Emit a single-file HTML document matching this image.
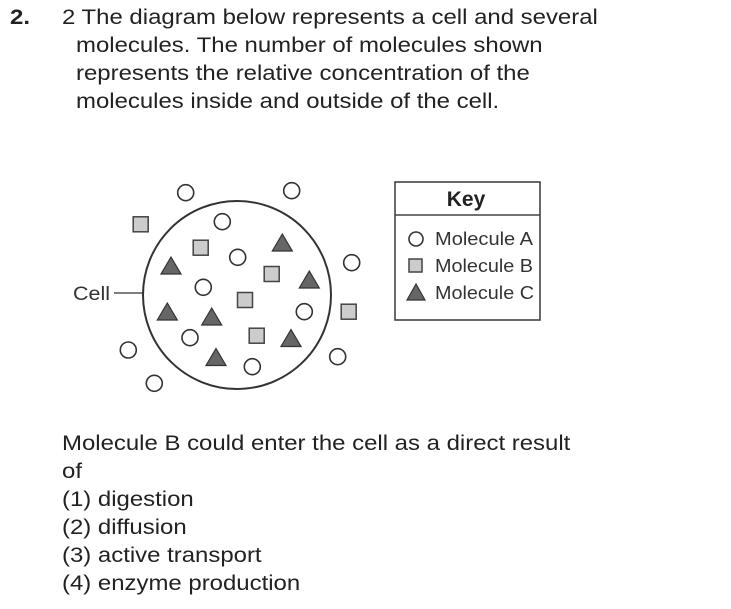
<!DOCTYPE html>
<html><head><style>
body{margin:0;width:731px;height:609px;background:#fff;overflow:hidden;font-family:"Liberation Sans",Arial,sans-serif;color:#222;}
.t{position:absolute;font-size:21px;line-height:28px;white-space:nowrap;transform:scaleX(1.14);transform-origin:0 0;}
</style></head><body>
<div class="t" style="left:10px;top:4px;font-weight:bold;">2.</div>
<div class="t" style="left:62px;top:4px;">2 The diagram below represents a cell and several</div>
<div class="t" style="left:76px;top:32px;">molecules. The number of molecules shown</div>
<div class="t" style="left:76px;top:60px;">represents the relative concentration of the</div>
<div class="t" style="left:76px;top:88px;">molecules inside and outside of the cell.</div>
<svg style="position:absolute;left:0;top:0" width="731" height="609">
<g stroke="#333" stroke-width="1.6" fill="none">
<circle cx="237" cy="295" r="94" stroke-width="2"/>
<line x1="114" y1="293" x2="143" y2="293" stroke-width="1.2"/>
</g>
<g stroke="#333" stroke-width="1.6" fill="#fff">
<circle cx="185.7" cy="192.7" r="8"/><circle cx="291.7" cy="190.7" r="8"/>
<circle cx="222.3" cy="221.7" r="8"/><circle cx="237.7" cy="257.3" r="8"/>
<circle cx="351.7" cy="262.7" r="8"/><circle cx="203.3" cy="287.3" r="8"/>
<circle cx="304.3" cy="311.7" r="8"/><circle cx="190" cy="337.7" r="8"/>
<circle cx="128.3" cy="350" r="8"/><circle cx="337.7" cy="356.7" r="8"/>
<circle cx="252.3" cy="366.7" r="8"/><circle cx="154.3" cy="383.3" r="8"/>
</g>
<g stroke="#444" stroke-width="1.5" fill="#ccc">
<rect x="133.2" y="216.8" width="15" height="15"/>
<rect x="193.2" y="240.2" width="15" height="15"/>
<rect x="264.2" y="266.5" width="15" height="15"/>
<rect x="237.5" y="292.5" width="15" height="15"/>
<rect x="341.2" y="304.2" width="15" height="15"/>
<rect x="249.2" y="328.2" width="15" height="15"/>
</g>
<g fill="#666" stroke="#333" stroke-width="1.2">
<polygon points="282.3,234 272.3,251 292.3,251"/>
<polygon points="171,257 161,274 181,274"/>
<polygon points="309.3,271 299.3,288 319.3,288"/>
<polygon points="167.3,303 157.3,320 177.3,320"/>
<polygon points="211.7,308 201.7,325 221.7,325"/>
<polygon points="291,329.5 281,346.5 301,346.5"/>
<polygon points="216,348.5 206,365.5 226,365.5"/>
</g>
<text x="73" y="300" font-size="19" fill="#333" textLength="37" lengthAdjust="spacingAndGlyphs" font-family="Liberation Sans,sans-serif">Cell</text>
<rect x="395" y="182" width="145" height="138" fill="none" stroke="#444" stroke-width="1.6"/>
<line x1="395" y1="215" x2="540" y2="215" stroke="#444" stroke-width="1.6"/>
<text x="466" y="206" font-size="21" font-weight="bold" text-anchor="middle" fill="#222" font-family="Liberation Sans,sans-serif">Key</text>
<circle cx="416" cy="239" r="7" fill="#fff" stroke="#333" stroke-width="1.6"/>
<rect x="409" y="259" width="13" height="13" fill="#ccc" stroke="#444" stroke-width="1.5"/>
<polygon points="416,284 407,300 425,300" fill="#666" stroke="#333" stroke-width="1.2"/>
<g font-size="18.5" fill="#333" font-family="Liberation Sans,sans-serif">
<text x="435" y="245" textLength="98" lengthAdjust="spacingAndGlyphs">Molecule A</text>
<text x="435" y="272" textLength="98" lengthAdjust="spacingAndGlyphs">Molecule B</text>
<text x="435" y="299" textLength="99" lengthAdjust="spacingAndGlyphs">Molecule C</text>
</g>
</svg>
<div class="t" style="left:62px;top:430px;">Molecule B could enter the cell as a direct result</div>
<div class="t" style="left:62px;top:458px;">of</div>
<div class="t" style="left:62px;top:486px;">(1) digestion</div>
<div class="t" style="left:62px;top:514px;">(2) diffusion</div>
<div class="t" style="left:62px;top:542px;">(3) active transport</div>
<div class="t" style="left:62px;top:570px;">(4) enzyme production</div>
</body></html>
